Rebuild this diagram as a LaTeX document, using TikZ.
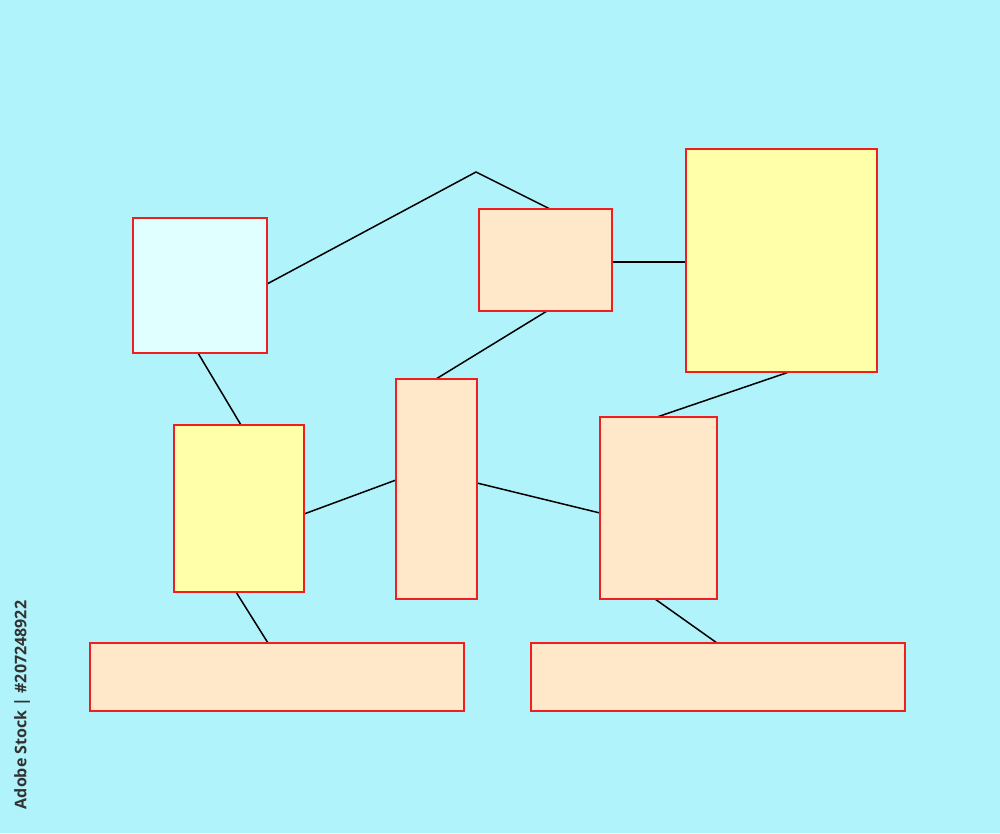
\documentclass[tikz,border=0pt]{standalone}
\usepackage{fontspec}
\newfontfamily\wmfont{Open Sans}
\definecolor{bgcol}{RGB}{176,243,251}
\definecolor{bordercol}{RGB}{240,30,30}
\definecolor{cyanfill}{RGB}{224,255,255}
\definecolor{peachfill}{RGB}{255,232,202}
\definecolor{yellowfill}{RGB}{255,255,170}
\definecolor{wmcol}{RGB}{50,50,50}
\begin{document}
\begin{tikzpicture}[x=1pt,y=-1pt,
  box/.style={draw=bordercol,line width=1.6pt},
  cyanbox/.style={box,fill=cyanfill},
  peachbox/.style={box,fill=peachfill},
  yellowbox/.style={box,fill=yellowfill},
  conn/.style={draw=black,line width=1.5pt}]
\fill[bgcol] (0,0) rectangle (1000,833);
\useasboundingbox (0,0) rectangle (1000,833);
% boxes
\draw[cyanbox] (133,218) rectangle (267,353);
\draw[peachbox] (479,209) rectangle (612,311);
\draw[yellowbox] (686,149) rectangle (877,372);
\draw[yellowbox] (174,425) rectangle (304,592);
\draw[peachbox] (396,379) rectangle (477,599);
\draw[peachbox] (600,417) rectangle (717,599);
\draw[peachbox] (90,643) rectangle (464,711);
\draw[peachbox] (531,643) rectangle (905,711);
% anchor coordinates
\coordinate (aR) at (267,284);
\coordinate (aB) at (198,353);
\coordinate (bend) at (476,172);
\coordinate (bT) at (550,209);
\coordinate (bR) at (612,262);
\coordinate (bB) at (547,311);
\coordinate (cL) at (686,262);
\coordinate (cB) at (789,372);
\coordinate (dT) at (241,425);
\coordinate (dR) at (304,514);
\coordinate (dB) at (236,592);
\coordinate (eT) at (436,379);
\coordinate (eL) at (396,480);
\coordinate (eR) at (477,483);
\coordinate (fT) at (657,417);
\coordinate (fL) at (600,513);
\coordinate (fB) at (655,599);
\coordinate (gT) at (268,643);
\coordinate (hT) at (717,643);
% connectors
\draw[conn] (aR) -- (bend) -- (bT);
\draw[conn] (bR) -- (cL);
\draw[conn] (bB) -- (eT);
\draw[conn] (cB) -- (fT);
\draw[conn] (aB) -- (dT);
\draw[conn] (dR) -- (eL);
\draw[conn] (eR) -- (fL);
\draw[conn] (dB) -- (gT);
\draw[conn] (fB) -- (hT);
% box borders on top of connector ends
\draw[box] (133,218) rectangle (267,353);
\draw[box] (479,209) rectangle (612,311);
\draw[box] (686,149) rectangle (877,372);
\draw[box] (174,425) rectangle (304,592);
\draw[box] (396,379) rectangle (477,599);
\draw[box] (600,417) rectangle (717,599);
\draw[box] (90,643) rectangle (464,711);
\draw[box] (531,643) rectangle (905,711);
% vertical label
\node[rotate=90,text=wmcol,font=\wmfont\bfseries\fontsize{16}{18}\selectfont,inner sep=0pt] (wm) at (22,705) {Adobe Stock | \#207248922};
\end{tikzpicture}
\end{document}
